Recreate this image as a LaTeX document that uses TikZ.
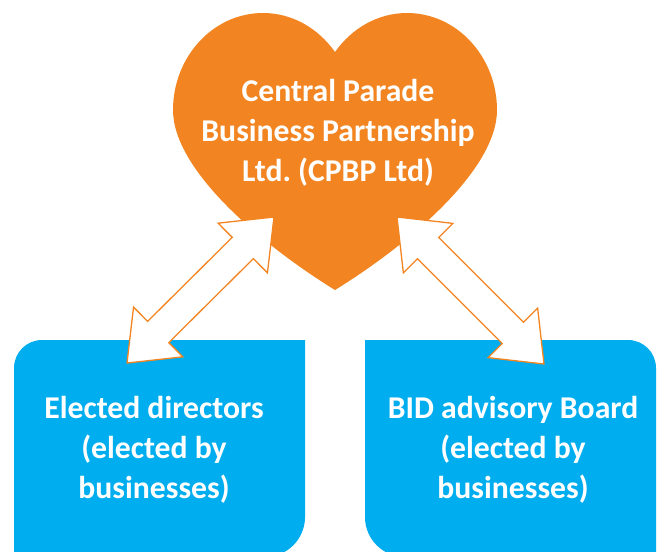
\documentclass[tikz,border=0pt]{standalone}
\usepackage{fontspec}
\setmainfont{Carlito}
\usetikzlibrary{calc}
\definecolor{heartorange}{RGB}{242,133,34}
\definecolor{boxblue}{RGB}{0,174,239}
\frenchspacing

% double-headed block arrow between two named coordinates
\newcommand\blockarrow[2]{%
  \path ($(#1)!44pt!(#2)$) coordinate (ba) ($(#2)!44pt!(#1)$) coordinate (bb);
  \draw[link] (#2) -- ($(bb)!35pt!90:(#2)$) -- ($(bb)!15pt!90:(#2)$)
    -- ($(ba)!15pt!-90:(#1)$) -- ($(ba)!35pt!-90:(#1)$) -- (#1)
    -- ($(ba)!35pt!90:(#1)$) -- ($(ba)!15pt!90:(#1)$)
    -- ($(bb)!15pt!-90:(#2)$) -- ($(bb)!35pt!-90:(#2)$) -- cycle;
}

\begin{document}
\begin{tikzpicture}[x=1pt,y=-1pt,
  label text/.style={text=white, font=\bfseries\fontsize{31.7}{40}\selectfont, align=center},
  link/.style={draw=heartorange, fill=white, line width=1.3pt, line join=miter}]
\useasboundingbox (0,0) rectangle (662,552);
\clip (0,0) rectangle (662,552);

% heart
\fill[heartorange] (335,52) .. controls (318,28) and (292,13) .. (263,13)
  .. controls (213,13) and (173,57) .. (173,110)
  .. controls (173,170) and (262,245) .. (335,290)
  .. controls (408,245) and (497,170) .. (497,110)
  .. controls (497,57) and (457,13) .. (407,13)
  .. controls (378,13) and (352,28) .. (335,52) -- cycle;
\node[label text] (cpbp) at (338,133) {Central Parade\\Business Partnership\\Ltd. (CPBP Ltd)};

% left box: rounded top-left and bottom-right
\fill[boxblue] (14,560) -- (14,368) .. controls (14,352.5) and (26.5,340) .. (42,340)
  -- (305,340) -- (305,517) .. controls (305,539.1) and (287.1,557) .. (265,557) -- cycle;
\node[label text] (directors) at (154,450) {Elected directors\\(elected by\\businesses)};

% right box: rounded top-right and bottom-left
\fill[boxblue] (365,340) -- (628,340) .. controls (643.5,340) and (656,352.5) .. (656,368)
  -- (656,560) -- (405,557) .. controls (382.9,557) and (365,539.1) .. (365,517) -- cycle;
\node[label text] (board) at (513,450) {BID advisory Board\\(elected by\\businesses)};

% arrow ends
\coordinate (dirtip) at (127,363);
\coordinate (heartL) at (274,217);
\coordinate (heartR) at (397,217);
\coordinate (boardtip) at (544,364);

\blockarrow{dirtip}{heartL}
\blockarrow{heartR}{boardtip}
\end{tikzpicture}
\end{document}
